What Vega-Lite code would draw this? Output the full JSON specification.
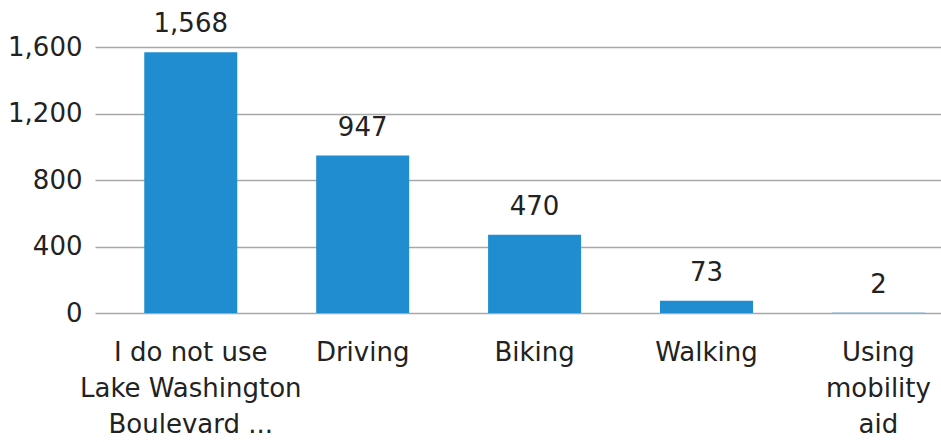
{
  "$schema": "https://vega.github.io/schema/vega-lite/v6.json",
  "autosize": {"type": "none"},
  "padding": {"left": 95, "top": 47, "right": 0, "bottom": 129},
  "width": 846,
  "height": 266,
  "background": "white",
  "config": {
    "view": {"stroke": null},
    "font": "DejaVu Sans",
    "axis": {"labelFont": "DejaVu Sans", "labelColor": "#222222", "labelFontSize": 26, "labelLimit": 400}
  },
  "data": {
    "values": [
      {"mode": "I do not use|Lake Washington|Boulevard ...", "count": 1568},
      {"mode": "Driving", "count": 947},
      {"mode": "Biking", "count": 470},
      {"mode": "Walking", "count": 73},
      {"mode": "Using|mobility|aid", "count": 2}
    ]
  },
  "encoding": {
    "x": {
      "field": "mode",
      "type": "nominal",
      "sort": null,
      "scale": {"paddingInner": 0.459, "paddingOuter": 0.19, "align": 0.754},
      "axis": {
        "title": null,
        "labelAngle": 0,
        "domain": false,
        "ticks": false,
        "labelPadding": 26,
        "labelLineHeight": 36,
        "labelExpr": "split(datum.value, '|')"
      }
    },
    "y": {
      "field": "count",
      "type": "quantitative",
      "scale": {"domain": [0, 1600], "nice": false},
      "axis": {
        "title": null,
        "values": [0, 400, 800, 1200, 1600],
        "format": ",d",
        "domain": false,
        "ticks": false,
        "labelPadding": 13,
        "gridColor": "#a8a8a8",
        "gridWidth": 1.5
      }
    }
  },
  "layer": [
    {"mark": {"type": "bar", "color": "#1f8dd0"}},
    {
      "mark": {"type": "text", "baseline": "bottom", "dy": -15, "fontSize": 26, "color": "#222222"},
      "encoding": {"text": {"field": "count", "type": "quantitative", "format": ",d"}}
    }
  ]
}
